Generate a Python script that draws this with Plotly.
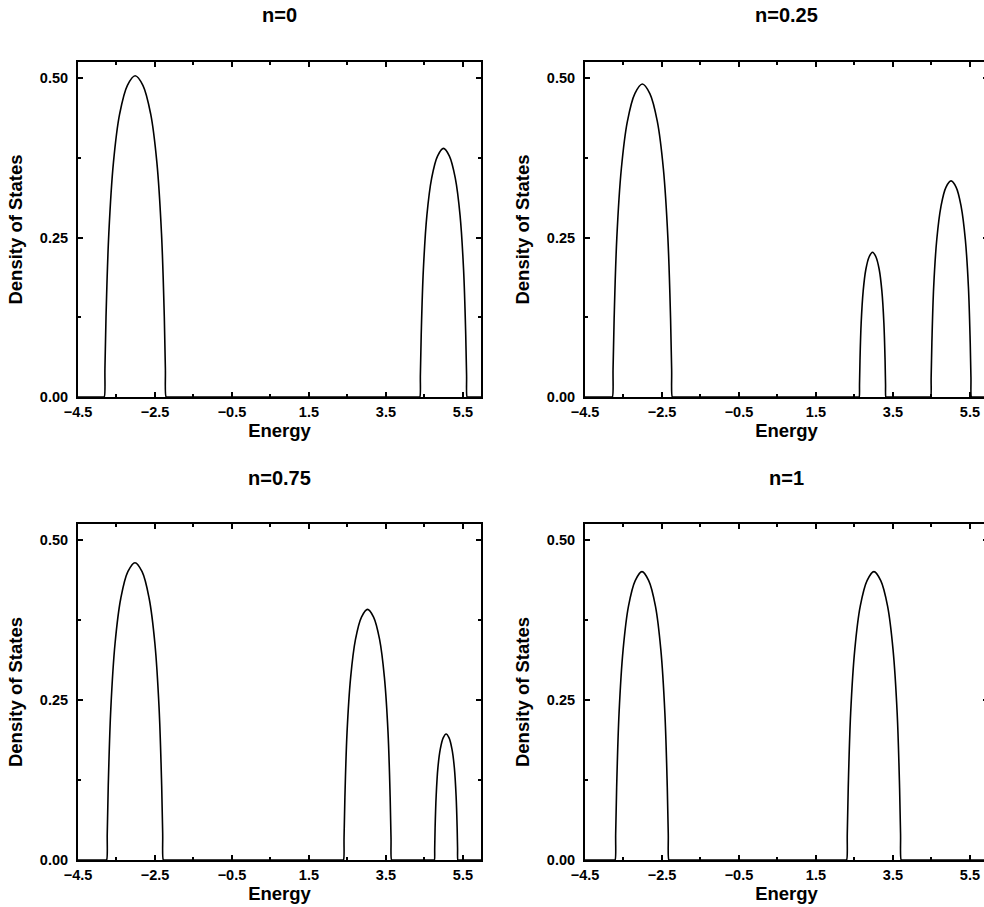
import plotly.graph_objects as go

panel_titles = ["n=0", "n=0.25", "n=0.75", "n=1"]
x_major_ticks = [-4.5, -2.5, -0.5, 1.5, 3.5, 5.5]
x_minor_ticks = [-3.5, -1.5, 0.5, 2.5, 4.5]
y_major_ticks = [0.0, 0.25, 0.5]
y_minor_ticks = [0.125, 0.375]

energy_n0 = [-4.5,
             -3.844, -3.820, -3.800, -3.772, -3.699, -3.579, -3.418, -3.216, -3.015,
             -2.814, -2.612, -2.451, -2.331, -2.258, -2.230, -2.210, -2.186,
             4.362, 4.380, 4.395, 4.417, 4.472, 4.564, 4.687, 4.841, 4.995,
             5.149, 5.303, 5.426, 5.518, 5.573, 5.595, 5.610, 5.628,
             6.0]
dos_n0 = [0,
          0, 0, 0.045, 0.126, 0.257, 0.368, 0.444, 0.489, 0.504,
          0.489, 0.444, 0.368, 0.257, 0.126, 0.045, 0, 0,
          0, 0, 0.035, 0.098, 0.199, 0.285, 0.343, 0.378, 0.390,
          0.378, 0.343, 0.285, 0.199, 0.098, 0.035, 0, 0,
          0]

energy_n025 = [-4.5,
               -3.813, -3.790, -3.771, -3.743, -3.673, -3.556, -3.400, -3.205, -3.010,
               -2.815, -2.620, -2.464, -2.347, -2.277, -2.249, -2.230, -2.207,
               2.613, 2.623, 2.632, 2.644, 2.675, 2.727, 2.796, 2.883, 2.970,
               3.057, 3.144, 3.213, 3.265, 3.296, 3.308, 3.317, 3.327,
               4.464, 4.480, 4.493, 4.512, 4.559, 4.639, 4.745, 4.877, 5.010,
               5.143, 5.275, 5.381, 5.461, 5.508, 5.527, 5.540, 5.556,
               6.0]
dos_n025 = [0,
            0, 0, 0.044, 0.123, 0.250, 0.358, 0.432, 0.476, 0.491,
            0.476, 0.432, 0.358, 0.250, 0.123, 0.044, 0, 0,
            0, 0, 0.020, 0.057, 0.116, 0.166, 0.200, 0.220, 0.227,
            0.220, 0.200, 0.166, 0.116, 0.057, 0.020, 0, 0,
            0, 0, 0.031, 0.085, 0.173, 0.247, 0.298, 0.329, 0.339,
            0.329, 0.298, 0.247, 0.173, 0.085, 0.031, 0, 0,
            0]

energy_n075 = [-4.5,
               -3.780, -3.758, -3.740, -3.714, -3.647, -3.537, -3.389, -3.205, -3.020,
               -2.835, -2.651, -2.503, -2.393, -2.326, -2.300, -2.282, -2.260,
               2.377, 2.396, 2.412, 2.434, 2.490, 2.584, 2.709, 2.865, 3.022,
               3.179, 3.335, 3.460, 3.554, 3.610, 3.632, 3.648, 3.667,
               4.750, 4.759, 4.767, 4.777, 4.805, 4.850, 4.911, 4.988, 5.064,
               5.140, 5.217, 5.278, 5.323, 5.351, 5.361, 5.369, 5.378,
               6.0]
dos_n075 = [0,
            0, 0, 0.042, 0.116, 0.237, 0.339, 0.409, 0.451, 0.465,
            0.451, 0.409, 0.339, 0.237, 0.116, 0.042, 0, 0,
            0, 0, 0.035, 0.098, 0.200, 0.286, 0.345, 0.380, 0.392,
            0.380, 0.345, 0.286, 0.200, 0.098, 0.035, 0, 0,
            0, 0, 0.018, 0.049, 0.100, 0.144, 0.173, 0.191, 0.197,
            0.191, 0.173, 0.144, 0.100, 0.049, 0.018, 0, 0,
            0]

energy_n1 = [-4.5,
             -3.741, -3.720, -3.703, -3.678, -3.615, -3.510, -3.370, -3.195, -3.020,
             -2.845, -2.670, -2.530, -2.425, -2.362, -2.337, -2.320, -2.299,
             2.275, 2.296, 2.314, 2.339, 2.402, 2.509, 2.651, 2.828, 3.006,
             3.184, 3.361, 3.503, 3.610, 3.673, 3.698, 3.716, 3.737,
             6.0]
dos_n1 = [0,
          0, 0, 0.041, 0.113, 0.230, 0.329, 0.397, 0.437, 0.451,
          0.437, 0.397, 0.329, 0.230, 0.113, 0.041, 0, 0,
          0, 0, 0.041, 0.113, 0.230, 0.329, 0.397, 0.437, 0.451,
          0.437, 0.397, 0.329, 0.230, 0.113, 0.041, 0, 0,
          0]

series = [(energy_n0, dos_n0), (energy_n025, dos_n025),
          (energy_n075, dos_n075), (energy_n1, dos_n1)]

W, H = 1000, 907
FONT = "Liberation Sans, Arial, Helvetica, sans-serif"

# panel pixel boxes: (left, right, top, bottom)
boxes = [(78, 481, 62, 397), (585, 988, 62, 397),
         (78, 481, 524, 860), (585, 988, 524, 860)]
title_y = [15, 15, 478, 478]

fig = go.Figure()
annotations = []
for i, ((ex, dy), (l, r, t, b)) in enumerate(zip(series, boxes)):
    k = "" if i == 0 else str(i + 1)
    fig.add_trace(go.Scatter(
        x=ex, y=dy, mode="lines",
        line=dict(color="black", width=1.6, shape="spline", smoothing=1.0),
        xaxis="x" + k, yaxis="y" + k, showlegend=False, hoverinfo="skip"))
    xa = dict(
        domain=[l / W, r / W], range=[-4.5, 5.97], anchor="y" + k,
        automargin=False,
        tickmode="array", tickvals=x_major_ticks, tickformat=".1f",
        ticks="inside", ticklen=5, tickwidth=1.5, tickcolor="black",
        showline=True, linewidth=2, linecolor="black", mirror="ticks",
        showgrid=False, zeroline=False,
        minor=dict(tickmode="array", tickvals=x_minor_ticks, ticks="inside",
                   ticklen=3, tickwidth=1.5, tickcolor="black", showgrid=False),
        tickfont=dict(family=FONT, size=14.5, color="black", weight="bold"),
        ticklabelstandoff=1,
        title=dict(text="Energy", standoff=1,
                   font=dict(family=FONT, size=18.5, color="black", weight="bold")),
    )
    ya = dict(
        domain=[1 - b / H, 1 - t / H], range=[0, 0.5255], anchor="x" + k,
        automargin=False,
        tickmode="array", tickvals=y_major_ticks, tickformat=".2f",
        ticks="inside", ticklen=5, tickwidth=1.5, tickcolor="black",
        showline=True, linewidth=2, linecolor="black", mirror="ticks",
        showgrid=False, zeroline=False,
        minor=dict(tickmode="array", tickvals=y_minor_ticks, ticks="inside",
                   ticklen=3, tickwidth=1.5, tickcolor="black", showgrid=False),
        tickfont=dict(family=FONT, size=14.5, color="black", weight="bold"),
        ticklabelstandoff=5,
        title=dict(text="Density of States", standoff=12,
                   font=dict(family=FONT, size=18.5, color="black", weight="bold")),
    )
    fig.update_layout(**{"xaxis" + k: xa, "yaxis" + k: ya})
    annotations.append(dict(
        text=panel_titles[i], xref="paper", yref="paper",
        x=(l + r) / 2 / W, y=1 - title_y[i] / H,
        xanchor="center", yanchor="middle", showarrow=False,
        font=dict(family=FONT, size=20, color="black", weight="bold")))

fig.update_layout(
    width=W, height=H, autosize=False,
    margin=dict(l=0, r=0, t=0, b=0, pad=0),
    paper_bgcolor="white", plot_bgcolor="white",
    annotations=annotations,
)

fig.write_html(
    "out.html",
    config={"displayModeBar": False},
    post_script="document.body.style.margin='0';"
                "document.body.style.overflow='hidden';"
                "document.documentElement.style.overflow='hidden';",
)
